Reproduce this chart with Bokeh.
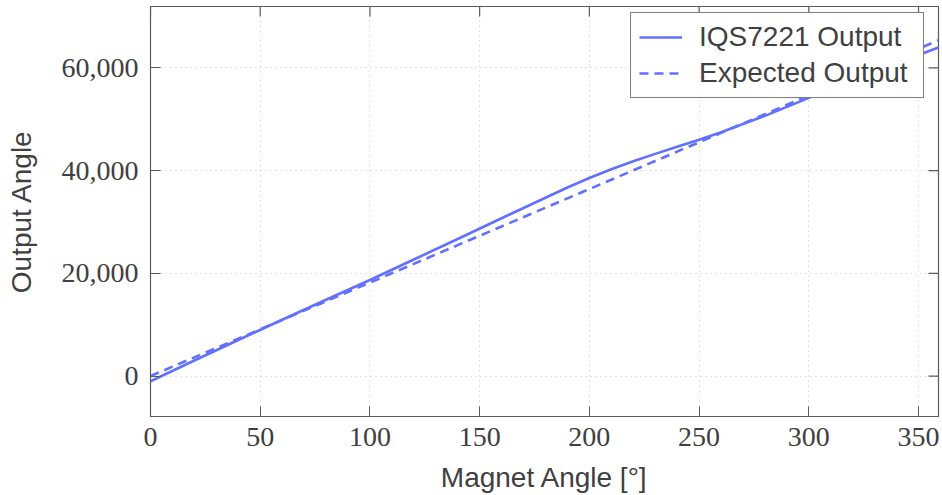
import math
from bokeh.plotting import figure
from bokeh.models import (Range1d, LinearAxis, FixedTicker, NumeralTickFormatter,
                          Legend, LegendItem, ColumnDataSource)
from bokeh.embed import file_html
from bokeh.resources import INLINE

# ---- data ----
magnet_angle = [0, 20, 40, 60, 80, 100, 120, 140, 160, 180, 190, 200, 210, 220, 230, 240,
                250, 260, 280, 300, 320, 340, 359]
iqs_output = [-1000, 3040, 7030, 10970, 14860, 18700, 22700, 26690, 30730, 34720, 36700, 38550,
              40250, 41800, 43250, 44650, 46000, 47450, 50650, 54150, 57500, 60850, 63950]
expected_output = [0, 3641, 7282, 10923, 14563, 18204, 21845, 25486, 29127, 32768, 34588, 36409,
                   38229, 40050, 41870, 43691, 45511, 47332, 50972, 54613, 58254, 61895, 65354]
x_ticks = [0, 50, 100, 150, 200, 250, 300, 350]
y_ticks = [0, 20000, 40000, 60000]
series_names = ["IQS7221 Output", "Expected Output"]

LINE = "#6170ff"
AX = "#5a5a5a"
TXT = "#404040"

X_START, X_END = 0, 359.1
Y_START, Y_END = -7870, 71940

src = ColumnDataSource(dict(x=magnet_angle, a=iqs_output, e=expected_output))

p = figure(width=942, height=495, frame_width=788, frame_height=410,
           min_border_left=150, min_border_right=4, min_border_top=6, min_border_bottom=79,
           x_range=Range1d(X_START, X_END), y_range=Range1d(Y_START, Y_END),
           output_backend="svg", toolbar_location=None)
p.xaxis.visible = False
p.yaxis.visible = False

p.outline_line_color = AX
p.outline_line_width = 1.2
p.background_fill_color = "white"
p.border_fill_color = "white"

def style_axis(ax, ticks, label):
    ax.ticker = FixedTicker(ticks=ticks)
    ax.axis_line_color = AX
    ax.major_tick_line_color = AX
    ax.major_tick_in = 10
    ax.major_tick_out = 0
    ax.minor_tick_line_color = None
    ax.major_label_text_font = "Liberation Serif"
    ax.major_label_text_font_size = "28px"
    ax.major_label_text_color = TXT
    ax.axis_label = label
    ax.axis_label_text_font = "Liberation Sans"
    ax.axis_label_text_font_size = "28px"
    ax.axis_label_text_font_style = "normal"
    ax.axis_label_text_color = TXT

xb = LinearAxis()
style_axis(xb, x_ticks, "Magnet Angle [°]")
xb.major_label_standoff = 11
xb.axis_label_standoff = 13
p.add_layout(xb, "below")

yl = LinearAxis(formatter=NumeralTickFormatter(format="0,0"))
style_axis(yl, y_ticks, "Output Angle")
yl.major_label_standoff = 12
yl.axis_label_standoff = 22
p.add_layout(yl, "left")

# tick marks on the top and right frame edges (pgfplots style box ticks)
p.scatter(x=x_ticks, y=[Y_END] * len(x_ticks), marker="dash", angle=math.pi / 2,
          size=20, line_color=AX, line_width=1.2)
p.scatter(x=[X_END] * len(y_ticks), y=y_ticks, marker="dash",
          size=20, line_color=AX, line_width=1.2)

p.xgrid.ticker = FixedTicker(ticks=x_ticks)
p.ygrid.ticker = FixedTicker(ticks=y_ticks)
for g in (p.xgrid, p.ygrid):
    g.grid_line_color = "#c4c4c4"
    g.grid_line_dash = "1 4"
    g.grid_line_width = 1

r1 = p.line("x", "a", source=src, line_color=LINE, line_width=2.6)
r2 = p.line("x", "e", source=src, line_color=LINE, line_width=2.6, line_dash="9 6")

legend = Legend(items=[LegendItem(label=series_names[0], renderers=[r1]),
                       LegendItem(label=series_names[1], renderers=[r2])],
                location="top_right")
legend.label_text_font = "Liberation Sans"
legend.label_text_font_size = "28px"
legend.label_text_color = TXT
legend.border_line_color = "black"
legend.border_line_width = 1
legend.background_fill_color = "white"
legend.background_fill_alpha = 1
legend.glyph_width = 43
legend.glyph_height = 30
legend.label_height = 30
legend.label_width = 216
legend.label_standoff = 17
legend.padding = 8
legend.spacing = 4
legend.margin = 0
legend.location = (480, 318)
p.add_layout(legend, "center")

open("out.html", "w").write(file_html(p, INLINE))
